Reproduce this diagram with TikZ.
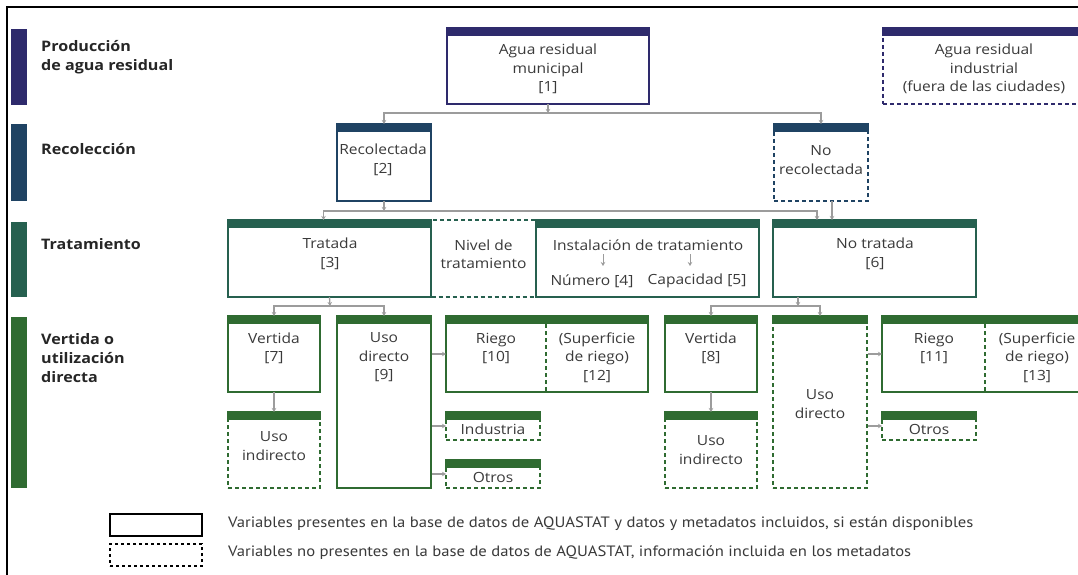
\documentclass[tikz,border=0pt]{standalone}
\usepackage{fontspec}
\usepackage{graphicx}
\setmainfont{Open Sans}[FakeStretch=1.11]
\newfontfamily\legfont{PT Sans}
\usetikzlibrary{arrows.meta}
\definecolor{cprod}{HTML}{2E2A6C}
\definecolor{crec}{HTML}{1F4363}
\definecolor{ctrat}{HTML}{26604F}
\definecolor{cvert}{HTML}{2F6B31}
\definecolor{cgray}{HTML}{9C9C9C}
\definecolor{ctext}{HTML}{3A3A3A}
\newcommand\mkbox[7]{%
  \node[#7, draw=#6, minimum width={(#4-#2)*1pt}, minimum height={(#5-#3)*1pt}] (#1) at ({(#2+#4)/2},{(#3+#5)/2}) {};
  \fill[#6] ([xshift=-0.9pt,yshift=0.9pt]#1.north west) rectangle ([xshift=0.9pt,yshift=-8pt]#1.north east);
}
\begin{document}
\begin{tikzpicture}[x=1pt,y=-1pt,
  wbox/.style={rectangle, line width=1.8pt, inner sep=0pt, outer sep=0pt},
  dbox/.style={wbox, dash pattern=on 4pt off 3pt},
  txt/.style={font=\fontsize{14}{18.5}\selectfont, text=ctext, align=center, inner sep=0pt},
  lbl/.style={font=\bfseries\fontsize{14.5}{19}\selectfont, text=black!85, anchor=west, align=left, inner sep=0pt},
  leg/.style={font=\legfont\fontsize{15}{16}\selectfont, text=ctext, anchor=west, inner sep=0pt},
  conn/.style={draw=cgray, line width=1.3pt},
  arr/.style={conn, -{Stealth[length=4pt,width=4.5pt]}}]
\clip (0,0) rectangle (1078,575);
\fill[white] (0,0) rectangle (1078,575);
% frame
\draw[line width=2pt] (7,580) -- (7,7.5) -- (1085,7.5);
% stage bars
\fill[cprod] (11,29) rectangle (27,105);
\fill[crec] (11,124) rectangle (27,201);
\fill[ctrat] (11,222) rectangle (27,297);
\fill[cvert] (11,317) rectangle (27,488);
\node[lbl] (l1) at (41,57.5) {Producción\\de agua residual};
\node[lbl] (l2) at (41,149) {Recolección};
\node[lbl] (l3) at (41,244) {Tratamiento};
\node[lbl] (l4) at (41,358) {Vertida o\\utilización\\directa};
% row 1
\mkbox{mun}{447}{28}{649}{104}{cprod}{wbox}
\mkbox{ind}{883}{28}{1092}{104}{cprod}{dbox}
\node[txt] (tmun) at (548,69) {Agua residual\\municipal\\{[1]}};
\node[txt] (tind) at (984,69) {Agua residual\\industrial\\(fuera de las ciudades)};
% row 2
\mkbox{rec}{337}{124}{431}{201}{crec}{wbox}
\mkbox{norec}{774}{124}{868}{201}{crec}{dbox}
\node[txt] (trec) at (383,160) {Recolectada\\{[2]}};
\node[txt] (tnorec) at (821,160) {No\\recolectada};
% row 3
\node[dbox, draw=ctrat, minimum width=104pt, minimum height=77pt] (nivel) at (483.5,258.5) {};
\mkbox{trat}{228}{220}{431}{297}{ctrat}{wbox}
\mkbox{inst}{536}{220}{759}{297}{ctrat}{wbox}
\mkbox{notrat}{773}{220}{976}{297}{ctrat}{wbox}
\node[txt] (ttrat) at (330,254) {Tratada\\{[3]}};
\node[txt] (tnivel) at (483.5,254) {Nivel de\\tratamiento};
\node[txt] (tinst) at (648,245) {Instalación de tratamiento};
\node[txt] (tnum) at (592,281) {Número [4]};
\node[txt] (tcap) at (697,281) {Capacidad [5]};
\node[txt] (tnotrat) at (875,254) {No tratada\\{[6]}};
% row 4
\mkbox{v7}{228}{316}{320}{392}{cvert}{wbox}
\mkbox{ud9}{337}{316}{431}{488}{cvert}{wbox}
\mkbox{rg10}{446}{316}{648}{392}{cvert}{wbox}
\mkbox{v8}{665}{316}{757}{392}{cvert}{wbox}
\mkbox{udr}{773}{316}{867}{488}{cvert}{dbox}
\mkbox{rg11}{882}{316}{1092}{392}{cvert}{wbox}
\mkbox{ui1}{228}{412}{320}{488}{cvert}{dbox}
\mkbox{indu}{446}{412}{540}{440}{cvert}{dbox}
\mkbox{ot1}{446}{460}{540}{488}{cvert}{dbox}
\mkbox{ui2}{665}{412}{757}{488}{cvert}{dbox}
\mkbox{ot2}{882}{412}{976}{440}{cvert}{dbox}
\coordinate (d10a) at (546,324);
\coordinate (d10b) at (546,392);
\coordinate (d11a) at (985,324);
\coordinate (d11b) at (985,392);
\draw[cvert, line width=1.8pt, dash pattern=on 4pt off 3pt] (d10a) -- (d10b);
\draw[cvert, line width=1.8pt, dash pattern=on 4pt off 3pt] (d11a) -- (d11b);
\node[txt] (tv7) at (274,348.5) {Vertida\\{[7]}};
\node[txt] (tud9) at (384,357.5) {Uso\\directo\\{[9]}};
\node[txt] (trg10) at (496,348.5) {Riego\\{[10]}};
\node[txt] (tsup12) at (597,357.5) {(Superficie\\de riego)\\{[12]}};
\node[txt] (tv8) at (711,348.5) {Vertida\\{[8]}};
\node[txt] (tudr) at (820,404) {Uso\\directo};
\node[txt] (trg11) at (934,348.5) {Riego\\{[11]}};
\node[txt] (tsup13) at (1037,357.5) {(Superficie\\de riego)\\{[13]}};
\node[txt] (tui1) at (274,446) {Uso\\indirecto};
\node[txt] (tindu) at (493,429) {Industria};
\node[txt] (tot1) at (493,477) {Otros};
\node[txt] (tui2) at (711,450) {Uso\\indirecto};
\node[txt] (tot2) at (929,429) {Otros};
% connectors
\coordinate (j1) at (548,113);
\draw[arr] (mun.south) -- (j1);
\draw[arr] (j1) -| (rec.north);
\draw[arr] (j1) -| (norec.north);
\coordinate (j2) at (384,211);
\draw[arr] (rec.south) -- (j2);
\draw[arr] (j2) -| ([xshift=-6pt]trat.north);
\draw[arr] (j2) -| ([xshift=44pt]notrat.north west);
\draw[arr] ([xshift=11pt]norec.south) -- ([xshift=11pt]norec.south |- notrat.north);
\coordinate (j3) at (330,306);
\draw[arr] (trat.south) -- (j3);
\draw[arr] (j3) -| (v7.north);
\draw[arr] (j3) -| (ud9.north);
\coordinate (j4) at (798,306);
\draw[arr] (j4 |- notrat.south) -- (j4);
\draw[arr] (j4) -| (v8.north);
\draw[arr] (j4) -| (udr.north);
\draw[arr] (v7.south) -- (ui1.north);
\draw[arr] (v8.south) -- (ui2.north);
\draw[arr] ([xshift=1pt]ud9.east |- rg10.west) -- (rg10.west);
\draw[arr] ([xshift=1pt]ud9.east |- indu.west) -- (indu.west);
\draw[arr] ([xshift=1pt]ud9.east |- ot1.west) -- (ot1.west);
\draw[arr] ([xshift=1pt]udr.east |- rg11.west) -- (rg11.west);
\draw[arr] ([xshift=1pt]udr.east |- ot2.west) -- (ot2.west);
\coordinate (ia) at (603,254);
\coordinate (ib) at (603,266);
\coordinate (ic) at (690,254);
\coordinate (id) at (690,266);
\draw[arr, line width=1pt] (ia) -- (ib);
\draw[arr, line width=1pt] (ic) -- (id);
% legend
\node[draw=black, line width=2.5pt, minimum width=92pt, minimum height=22pt, inner sep=0pt] (legs) at (156,525) {};
\node[draw=black, line width=2.5pt, dash pattern=on 3pt off 3pt, minimum width=92pt, minimum height=22pt, inner sep=0pt] (legd) at (156,555) {};
\node[leg] (legt1) at (228,524) {\scalebox{1.11}[1]{Variables presentes en la base de datos de AQUASTAT y datos y metadatos incluidos, si están disponibles}};
\node[leg] (legt2) at (228,553) {\scalebox{1.11}[1]{Variables no presentes en la base de datos de AQUASTAT, información incluida en los metadatos}};
\end{tikzpicture}
\end{document}
